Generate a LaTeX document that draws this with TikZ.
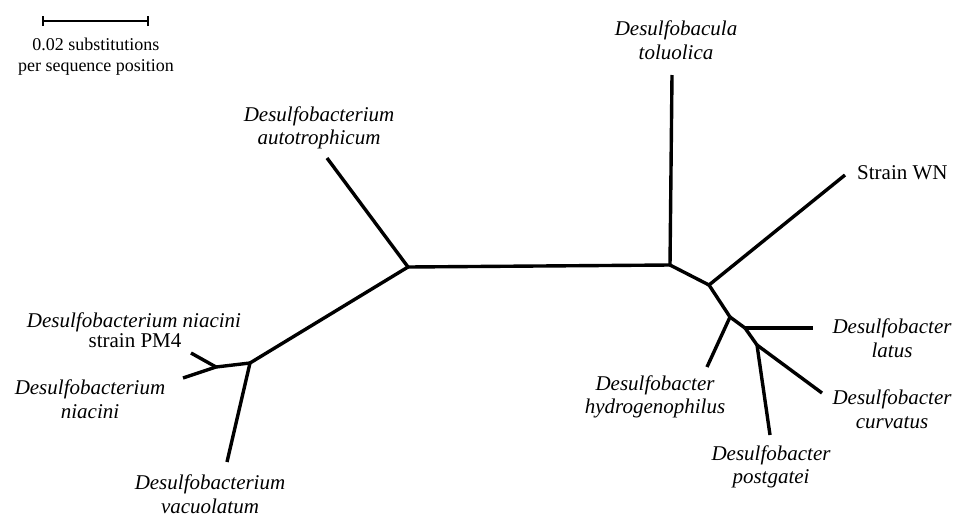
\documentclass[tikz,border=0pt]{standalone}
\usepackage{fontspec}
\setmainfont{Liberation Serif}
\begin{document}
\begin{tikzpicture}[x=1pt,y=-1pt,
  branch/.style={line width=3.4pt,line cap=butt,line join=round},
  sp/.style={align=center,inner sep=0pt,font=\fontsize{21}{23.5}\selectfont\itshape},
  rm/.style={align=center,inner sep=0pt,font=\fontsize{21}{23.5}\selectfont},
  sc/.style={align=center,inner sep=0pt,font=\fontsize{18}{21}\selectfont}]
\useasboundingbox (0,0) rectangle (958,517);
% scale bar
\coordinate (s1) at (43,21);
\coordinate (s2) at (148,21);
\draw[line width=1.6pt] (s1) -- (s2);
\draw[line width=1.6pt] ([yshift=-5]s1) -- ([yshift=5]s1);
\draw[line width=1.6pt] ([yshift=-5]s2) -- ([yshift=5]s2);
\node[sc] (scl) at (96,57) {0.02 substitutions\\per sequence position};
% internal nodes
\coordinate (A) at (408,267);
\coordinate (B) at (670,265);
\coordinate (C) at (250,363);
\coordinate (D) at (216,367);
\coordinate (E) at (709,285);
\coordinate (F) at (730,317);
\coordinate (G) at (745,328);
\coordinate (H) at (757,345);
% leaves
\coordinate (lauto) at (327,158);
\coordinate (lpm4) at (191,353);
\coordinate (lnia) at (183,378);
\coordinate (lvac) at (227,462);
\coordinate (ltol) at (672,75);
\coordinate (lwn) at (845,175);
\coordinate (lhyd) at (707,367);
\coordinate (llat) at (813,328);
\coordinate (lcur) at (822,393);
\coordinate (lpos) at (770,435);
% branches
\draw[branch] (A) -- (B);
\draw[branch] (A) -- (lauto);
\draw[branch] (A) -- (C);
\draw[branch] (C) -- (D);
\draw[branch] (D) -- (lpm4);
\draw[branch] (D) -- (lnia);
\draw[branch] (C) -- (lvac);
\draw[branch] (B) -- (ltol);
\draw[branch] (B) -- (E);
\draw[branch] (E) -- (lwn);
\draw[branch] (E) -- (F);
\draw[branch] (F) -- (lhyd);
\draw[branch] (F) -- (G);
\draw[branch] (G) -- (llat);
\draw[branch] (G) -- (H);
\draw[branch] (H) -- (lcur);
\draw[branch] (H) -- (lpos);
% labels
\node[sp] (tauto) at (319,128) {Desulfobacterium\\autotrophicum};
\node[sp] (ttol) at (676,40) {Desulfobacula\\toluolica};
\node[rm,anchor=west] (twn) at (857,173) {Strain WN};
\node[sp] (tpm4) at (134,322) {Desulfobacterium niacini};
\node[rm] (tpm4b) at (135,341) {strain PM4};
\node[sp] (tnia) at (90,399) {Desulfobacterium\\niacini};
\node[sp] (tvac) at (210,494) {Desulfobacterium\\vacuolatum};
\node[sp] (thyd) at (655,397) {Desulfobacter\\hydrogenophilus};
\node[sp] (tlat) at (892,338) {Desulfobacter\\latus};
\node[sp] (tcur) at (892,409) {Desulfobacter\\curvatus};
\node[sp] (tpos) at (771,467) {Desulfobacter\\postgatei};
\end{tikzpicture}
\end{document}
